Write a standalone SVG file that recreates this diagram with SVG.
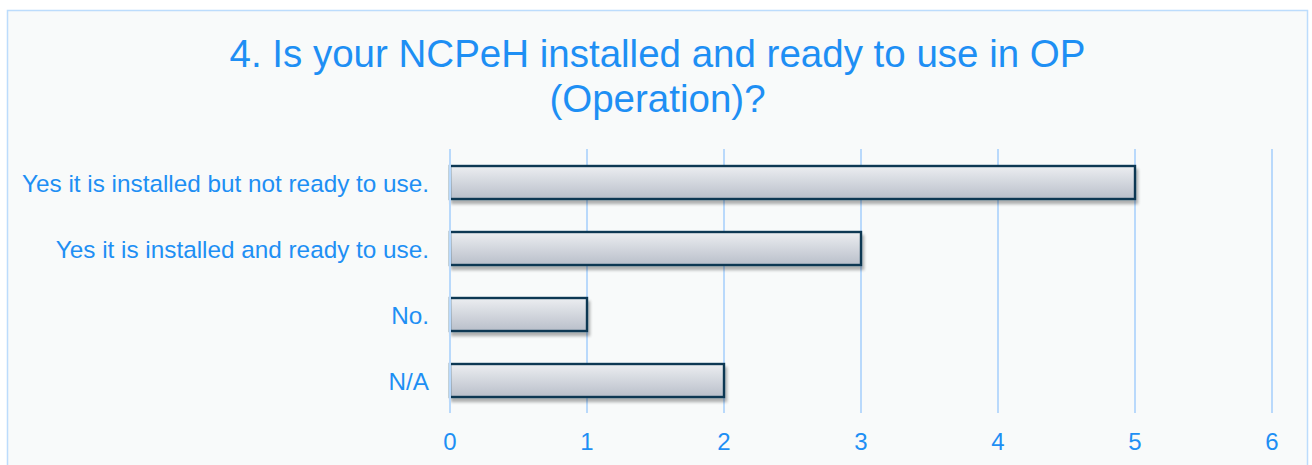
<svg xmlns="http://www.w3.org/2000/svg" width="1312" height="465" viewBox="0 0 1312 465">
  <defs>
    <linearGradient id="barFill" x1="0" y1="0" x2="0" y2="1">
      <stop offset="0" stop-color="#eceef1"/>
      <stop offset="1" stop-color="#b9bfca"/>
    </linearGradient>
    <filter id="barShadow" x="-5%" y="-30%" width="110%" height="170%">
      <feGaussianBlur in="SourceAlpha" stdDeviation="1.6"/>
      <feOffset dx="2" dy="4" result="off"/>
      <feComponentTransfer><feFuncA type="linear" slope="0.3"/></feComponentTransfer>
      <feMerge><feMergeNode/><feMergeNode in="SourceGraphic"/></feMerge>
    </filter>
    <style>
      .txt { font-family: "Liberation Sans", Arial, sans-serif; fill: #1e8ff4; }
      .title { font-size: 38.5px; text-anchor: middle; }
      .cat { font-size: 24.3px; text-anchor: end; }
      .tick { font-size: 24px; text-anchor: middle; }
      .grid { stroke: #b9d9fb; stroke-width: 2; }
      .bar { fill: url(#barFill); stroke: #0e3853; stroke-width: 2.4; filter: url(#barShadow); }
    </style>
  </defs>

  <!-- chart frame -->
  <rect x="7.5" y="10.5" width="1300" height="470" fill="#f8fafa" stroke="#bcdcfc" stroke-width="1.5"/>

  <!-- title -->
  <text class="txt title" x="657.5" y="67">4. Is your NCPeH installed and ready to use in OP</text>
  <text class="txt title" x="657.5" y="112">(Operation)?</text>

  <!-- vertical grid lines -->
  <g id="grid">
    <line class="grid" x1="587" y1="149" x2="587" y2="413"/>
    <line class="grid" x1="724" y1="149" x2="724" y2="413"/>
    <line class="grid" x1="861" y1="149" x2="861" y2="413"/>
    <line class="grid" x1="998" y1="149" x2="998" y2="413"/>
    <line class="grid" x1="1135" y1="149" x2="1135" y2="413"/>
    <line class="grid" x1="1272" y1="149" x2="1272" y2="413"/>
  </g>

  <!-- bars -->
  <g id="bar-installed-not-ready"><rect class="bar" x="450" y="166" width="685" height="33"/></g>
  <g id="bar-installed-ready"><rect class="bar" x="450" y="232" width="411" height="33"/></g>
  <g id="bar-no"><rect class="bar" x="450" y="298" width="137" height="33"/></g>
  <g id="bar-na"><rect class="bar" x="450" y="364" width="274" height="33"/></g>

  <!-- value axis at zero -->
  <line class="grid" x1="450" y1="149" x2="450" y2="413"/>

  <!-- category labels -->
  <g id="categories">
    <text class="txt cat" x="429" y="191.5">Yes it is installed but not ready to use.</text>
    <text class="txt cat" x="429" y="257.5">Yes it is installed and ready to use.</text>
    <text class="txt cat" x="429" y="323.5">No.</text>
    <text class="txt cat" x="429" y="389.5">N/A</text>
  </g>

  <!-- tick labels -->
  <g id="ticks">
    <text class="txt tick" x="450" y="450">0</text>
    <text class="txt tick" x="587" y="450">1</text>
    <text class="txt tick" x="724" y="450">2</text>
    <text class="txt tick" x="861" y="450">3</text>
    <text class="txt tick" x="998" y="450">4</text>
    <text class="txt tick" x="1135" y="450">5</text>
    <text class="txt tick" x="1272" y="450">6</text>
  </g>
</svg>
